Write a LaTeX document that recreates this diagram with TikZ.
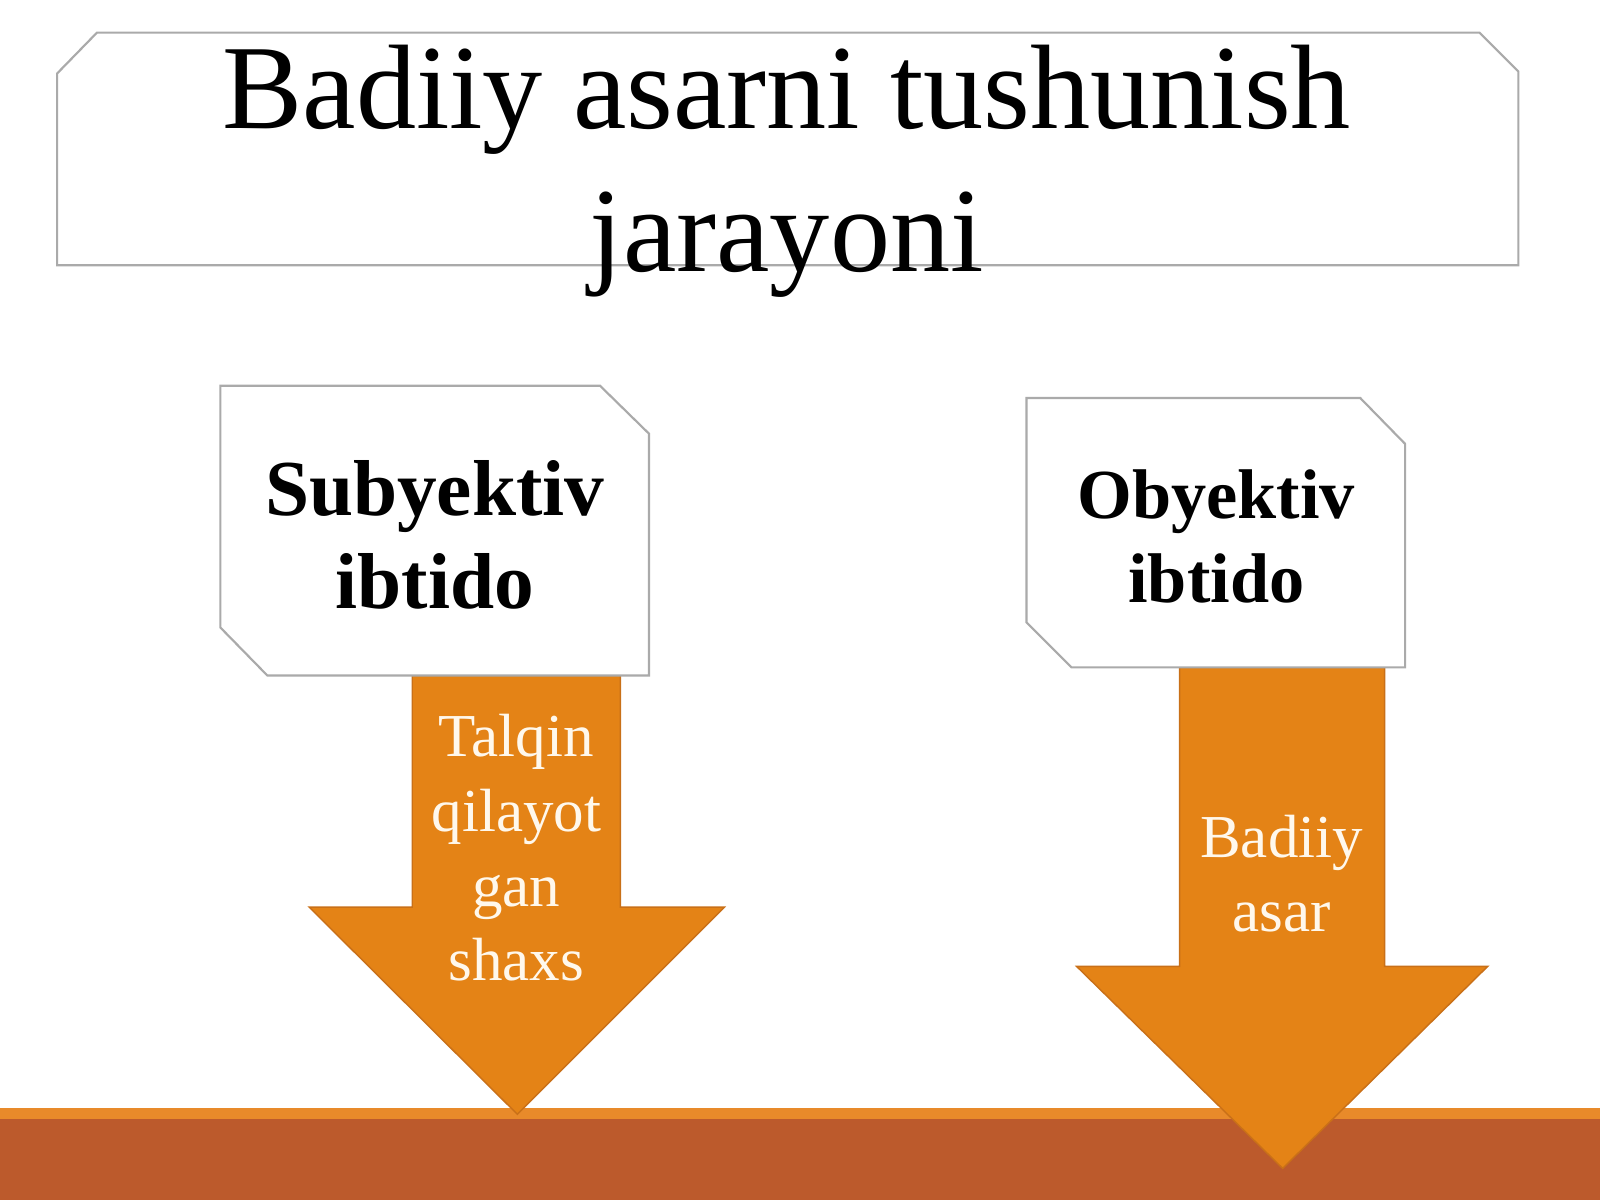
\documentclass[tikz,border=0pt]{standalone}
\usepackage{fontspec}
\setmainfont{Liberation Serif}
\definecolor{arroworange}{RGB}{228,131,22}
\definecolor{arrowedge}{RGB}{201,112,24}
\definecolor{rust}{RGB}{188,90,44}
\definecolor{bandtop}{RGB}{232,138,42}
\definecolor{boxgray}{RGB}{170,170,170}
\definecolor{cream}{RGB}{255,248,236}

\begin{document}
\begin{tikzpicture}[x=0.01cm,y=-0.01cm,
    card/.style={draw=boxgray,line width=0.6pt,fill=white},
    blockarrow/.style={fill=arroworange,draw=arrowedge,line width=0.4pt},
    heading/.style={align=center,inner sep=0pt,font=\fontsize{33.5}{40}\selectfont},
    cardtext/.style={align=center,inner sep=0pt},
    arrowtext/.style={align=center,inner sep=0pt,text=cream,font=\fontsize{17}{20.8}\selectfont}]

    % Frame
    \useasboundingbox[fill=white] (0,0) rectangle (1568,1176);

    % Bottom band
    \fill[rust] (0,1096) rectangle (1568,1176);
    \fill[bandtop] (0,1086) rectangle (1568,1097);

    % Arrows down
    \draw[blockarrow] (404,662) -- (608,662) -- (608,889) -- (710,889) -- (507,1092) -- (303,889) -- (404,889) -- cycle;
    \draw[blockarrow] (1156,654) -- (1357,654) -- (1357,947) -- (1458,947) -- (1257,1145) -- (1055,947) -- (1156,947) -- cycle;

    % Title
    \draw[card] (56,72) -- (95,32) -- (1450,32) -- (1488,70) -- (1488,260) -- (56,260) -- cycle;
    \node[heading] (title) at (771,168) {Badiiy asarni tushunish\\jarayoni};

    % Cards
    \draw[card] (216,378) -- (588,378) -- (636,425) -- (636,662) -- (262,662) -- (216,615) -- cycle;
    \draw[card] (1006,390) -- (1333,390) -- (1377,435) -- (1377,654) -- (1050,654) -- (1006,610) -- cycle;
    \node[cardtext,font=\bfseries\fontsize{22.1}{25.9}\selectfont] (subj) at (426,524) {Subyektiv\\ibtido};
    \node[cardtext,font=\bfseries\fontsize{19.6}{23.3}\selectfont] (obj) at (1192,526) {Obyektiv\\ibtido};

    % Arrow labels
    \node[arrowtext] (talqin) at (506,831) {Talqin\\qilayot\\gan\\shaxs};
    \node[arrowtext] (asar) at (1256,856) {Badiiy\\asar};
\end{tikzpicture}
\end{document}
